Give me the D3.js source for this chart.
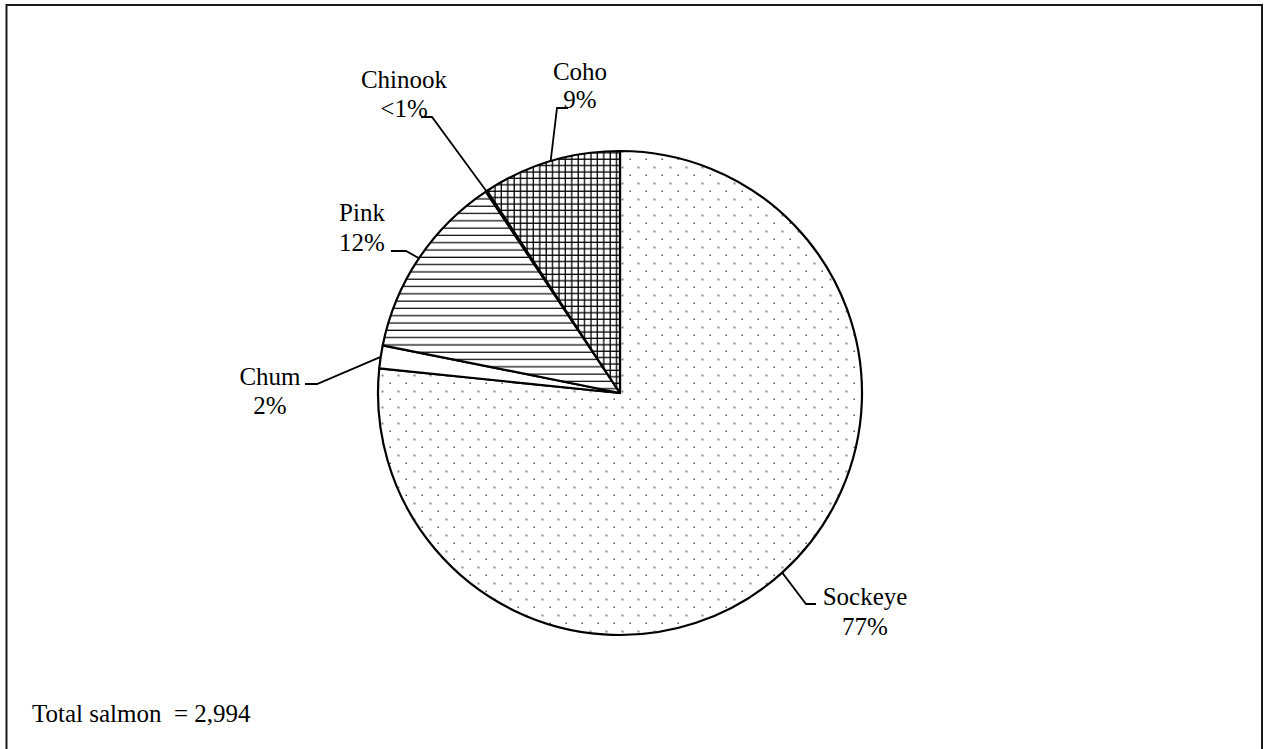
<!DOCTYPE html>
<html>
<head>
<meta charset="utf-8">
<script src="https://cdn.jsdelivr.net/npm/d3@7"></script>
<style>
  html, body { margin: 0; padding: 0; background: #fff; }
  svg { display: block; }
</style>
</head>
<body>
<svg id="chart" width="1265" height="749"></svg>
<script>
// ---- data ----
const species = ["Sockeye", "Chum", "Pink", "Chinook", "Coho"];
const counts = [2294, 46, 374, 3, 277];
const pctLabels = ["77%", "2%", "12%", "<1%", "9%"];
const totalLabel = "Total salmon  = 2,994";

// ---- layout ----
const W = 1265, H = 749;
const cx = 620, cy = 393, R = 242;
const fontSize = 25;
const FONT = "'Liberation Serif', 'Times New Roman', Times, serif";
const fills = { Sockeye: "url(#dots)", Chum: "#fff", Pink: "url(#hlines)", Chinook: "#fff", Coho: "url(#grid)" };
// label layout: elbow point, stub end, text center and baselines
const labelLayout = {
  Sockeye: { elbow: [806, 604], stub: [816, 604], tx: 865, ty: [605, 635] },
  Chum:    { elbow: [317, 384], stub: [305, 384], tx: 270, ty: [385, 414] },
  Pink:    { elbow: [406, 251], stub: [391, 251], tx: 362, ty: [221, 251] },
  Chinook: { elbow: [432, 117], stub: [421, 117], tx: 404, ty: [88, 117] },
  Coho:    { elbow: [557, 108], stub: [568, 108], tx: 580, ty: [80, 108] }
};

const svg = d3.select("#chart");
const defs = svg.append("defs");

// dotted pattern
const pd = defs.append("pattern").attr("id", "dots").attr("patternUnits", "userSpaceOnUse")
  .attr("width", 16).attr("height", 16);
pd.append("rect").attr("width", 16).attr("height", 16).attr("fill", "#fff");
pd.append("rect").attr("x", 1.5).attr("y", 13.5).attr("width", 2).attr("height", 2).attr("fill", "#8a8a8a");
pd.append("rect").attr("x", 9.5).attr("y", 5.5).attr("width", 1.5).attr("height", 1.5).attr("fill", "#555");

// horizontal lines pattern
const ph = defs.append("pattern").attr("id", "hlines").attr("patternUnits", "userSpaceOnUse")
  .attr("width", 8).attr("height", 7.3);
ph.append("rect").attr("width", 8).attr("height", 7.3).attr("fill", "#fff");
ph.append("line").attr("x1", 0).attr("x2", 8).attr("y1", 3).attr("y2", 3)
  .attr("stroke", "#000").attr("stroke-width", 1.2);

// grid pattern
const pg = defs.append("pattern").attr("id", "grid").attr("patternUnits", "userSpaceOnUse")
  .attr("width", 6.4).attr("height", 6.4);
pg.append("rect").attr("width", 6.4).attr("height", 6.4).attr("fill", "#fff");
pg.append("line").attr("x1", 0).attr("x2", 6.4).attr("y1", 3).attr("y2", 3)
  .attr("stroke", "#000").attr("stroke-width", 1.3);
pg.append("line").attr("y1", 0).attr("y2", 6.4).attr("x1", 3).attr("x2", 3)
  .attr("stroke", "#000").attr("stroke-width", 1.3);

// frame
svg.append("rect").attr("x", 6.5).attr("y", 5).attr("width", 1255.5).attr("height", 800)
  .attr("fill", "none").attr("stroke", "#1a1a1a").attr("stroke-width", 2);

// pie
const data = species.map((s, i) => ({ name: s, value: counts[i], pct: pctLabels[i] }));
const pie = d3.pie().value(d => d.value).sort(null).startAngle(0).endAngle(2 * Math.PI);
const arcs = pie(data);
const arc = d3.arc().innerRadius(0).outerRadius(R);

const g = svg.append("g").attr("transform", `translate(${cx},${cy})`);
g.selectAll("path.slice").data(arcs).enter().append("path")
  .attr("class", "slice")
  .attr("d", arc)
  .attr("fill", d => fills[d.data.name])
  .attr("stroke", "#000")
  .attr("stroke-width", 2.2)
  .attr("stroke-linejoin", "round");

// leader lines + labels
arcs.forEach(a => {
  const L = labelLayout[a.data.name];
  const mid = (a.startAngle + a.endAngle) / 2;
  const px = cx + R * Math.sin(mid), py = cy - R * Math.cos(mid);
  svg.append("polyline")
    .attr("points", [[px, py], L.elbow, L.stub].map(p => p.join(",")).join(" "))
    .attr("fill", "none").attr("stroke", "#000").attr("stroke-width", 1.8);
  const t = svg.append("text").attr("text-anchor", "middle")
    .attr("font-family", FONT).attr("font-size", fontSize).attr("fill", "#000");
  t.append("tspan").attr("x", L.tx).attr("y", L.ty[0]).text(a.data.name);
  t.append("tspan").attr("x", L.tx).attr("y", L.ty[1]).text(a.data.pct);
});

// total
svg.append("text").attr("x", 32).attr("y", 722)
  .attr("font-family", FONT).attr("font-size", fontSize).attr("fill", "#000")
  .style("white-space", "pre").text(totalLabel);
</script>
</body>
</html>
